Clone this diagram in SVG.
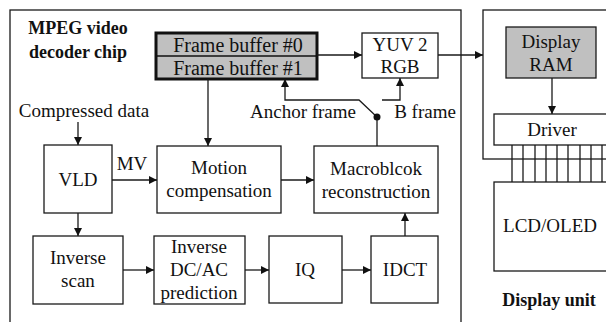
<svg xmlns="http://www.w3.org/2000/svg" width="606" height="322" viewBox="0 0 606 322" font-family="Liberation Serif, serif">
<style>
.b{fill:#fff;stroke:#1a1a1a;stroke-width:1.3}
.g{fill:#c0c0c0;stroke:#1a1a1a;stroke-width:1.3}
.t{font-size:19px;fill:#111;text-anchor:middle}
.f{font-size:20px;fill:#111;text-anchor:middle}
.h{font-size:18px;font-weight:bold;fill:#111;text-anchor:middle}
.c{fill:none;stroke:#1a1a1a;stroke-width:1.3}
</style>
<defs>
<marker id="a" viewBox="0 0 10 10" refX="10" refY="5" markerWidth="8" markerHeight="8" markerUnits="userSpaceOnUse" orient="auto">
<path d="M0,0 L10,5 L0,10 z" fill="#111"/>
</marker>
</defs>
<rect width="606" height="322" fill="#fff"/>
<g id="chip">
<rect class="b" x="10" y="10" width="451" height="330"/>
<text class="h" x="78" y="34" font-family="Liberation Serif, serif">MPEG video</text>
<text class="h" x="78" y="58" font-family="Liberation Serif, serif">decoder chip</text>
</g>
<g id="display-unit">
<rect class="b" x="483" y="10" width="140" height="149"/>
</g>
<g id="frame-buffer">
<rect x="156" y="33" width="161" height="46" fill="#c0c0c0" stroke="#111" stroke-width="3"/>
<line x1="156" y1="56" x2="317" y2="56" stroke="#111" stroke-width="1.3"/>
<text class="f" x="238" y="52" font-family="Liberation Serif, serif">Frame buffer #0</text>
<text class="f" x="238" y="75" font-family="Liberation Serif, serif">Frame buffer #1</text>
</g>
<g id="yuv2rgb">
<rect class="b" x="362" y="33" width="76" height="45"/>
<text class="t" x="400" y="51" font-family="Liberation Serif, serif">YUV 2</text>
<text class="t" x="400" y="73" font-family="Liberation Serif, serif">RGB</text>
</g>
<g id="display-ram">
<rect class="g" x="506" y="27" width="90" height="51"/>
<text class="t" x="551" y="48" font-family="Liberation Serif, serif">Display</text>
<text class="t" x="551" y="71" font-family="Liberation Serif, serif">RAM</text>
</g>
<g id="driver">
<rect class="b" x="494" y="114" width="130" height="31"/>
<text class="t" x="552" y="136" font-family="Liberation Serif, serif">Driver</text>
</g>
<g id="lcd">
<rect class="b" x="494" y="182" width="130" height="89"/>
<text class="t" x="550" y="232" font-family="Liberation Serif, serif">LCD/OLED</text>
<text class="h" x="549" y="306" font-family="Liberation Serif, serif">Display unit</text>
</g>
<g id="vld">
<rect class="b" x="44" y="145" width="68" height="68"/>
<text class="t" x="78" y="186" font-family="Liberation Serif, serif">VLD</text>
</g>
<g id="motion-compensation">
<rect class="b" x="157" y="146" width="124" height="67"/>
<text class="t" x="219" y="174" font-family="Liberation Serif, serif">Motion</text>
<text class="t" x="219" y="197" font-family="Liberation Serif, serif">compensation</text>
</g>
<g id="macroblock">
<rect class="b" x="314" y="146" width="124" height="67"/>
<text class="t" x="376" y="175" font-family="Liberation Serif, serif">Macroblcok</text>
<text class="t" x="376" y="198" font-family="Liberation Serif, serif">reconstruction</text>
</g>
<g id="inverse-scan">
<rect class="b" x="33" y="236" width="90" height="68"/>
<text class="t" x="78" y="264" font-family="Liberation Serif, serif">Inverse</text>
<text class="t" x="78" y="287" font-family="Liberation Serif, serif">scan</text>
</g>
<g id="inverse-dcac">
<rect class="b" x="154" y="236" width="91" height="68"/>
<text class="t" x="199" y="253" font-family="Liberation Serif, serif">Inverse</text>
<text class="t" x="199" y="276" font-family="Liberation Serif, serif">DC/AC</text>
<text class="t" x="199" y="299" font-family="Liberation Serif, serif">prediction</text>
</g>
<g id="iq">
<rect class="b" x="269" y="236" width="73" height="67"/>
<text class="t" x="305" y="276" font-family="Liberation Serif, serif">IQ</text>
</g>
<g id="idct">
<rect class="b" x="371" y="236" width="67" height="67"/>
<text class="t" x="405" y="276" font-family="Liberation Serif, serif">IDCT</text>
</g>
<g id="connectors">
<line class="c" x1="317" y1="55" x2="362" y2="55" marker-end="url(#a)"/>
<line class="c" x1="438" y1="55" x2="483" y2="55" marker-end="url(#a)"/>
<line class="c" x1="552" y1="78" x2="552" y2="114" marker-end="url(#a)"/>
<g class="c">
<line x1="512" y1="145" x2="512" y2="182"/>
<line x1="523" y1="145" x2="523" y2="182"/>
<line x1="535" y1="145" x2="535" y2="182"/>
<line x1="546" y1="145" x2="546" y2="182"/>
<line x1="557" y1="145" x2="557" y2="182"/>
<line x1="568" y1="145" x2="568" y2="182"/>
<line x1="580" y1="145" x2="580" y2="182"/>
<line x1="591" y1="145" x2="591" y2="182"/>
<line x1="602" y1="145" x2="602" y2="182"/>
</g>
<line class="c" x1="78" y1="122" x2="78" y2="145" marker-end="url(#a)"/>
<text class="t" x="84" y="117" font-family="Liberation Serif, serif">Compressed data</text>
<line class="c" x1="112" y1="180" x2="157" y2="180" marker-end="url(#a)"/>
<text class="t" x="132" y="170" font-family="Liberation Serif, serif">MV</text>
<line class="c" x1="208" y1="79" x2="208" y2="146" marker-end="url(#a)"/>
<line class="c" x1="281" y1="180" x2="314" y2="180" marker-end="url(#a)"/>
<line class="c" x1="78" y1="213" x2="78" y2="236" marker-end="url(#a)"/>
<line class="c" x1="123" y1="270" x2="154" y2="270" marker-end="url(#a)"/>
<line class="c" x1="245" y1="270" x2="269" y2="270" marker-end="url(#a)"/>
<line class="c" x1="342" y1="270" x2="371" y2="270" marker-end="url(#a)"/>
<line class="c" x1="405" y1="236" x2="405" y2="213" marker-end="url(#a)"/>
<polyline class="c" points="377,146 377,117 359,100 285,100 285,79" marker-end="url(#a)"/>
<polyline class="c" points="382,100 400,100 400,78" marker-end="url(#a)"/>
<circle cx="377" cy="117" r="3.5" fill="#111"/>
<text class="t" x="303" y="118" font-family="Liberation Serif, serif">Anchor frame</text>
<text class="t" x="425" y="118" font-family="Liberation Serif, serif">B frame</text>
</g>
</svg>
